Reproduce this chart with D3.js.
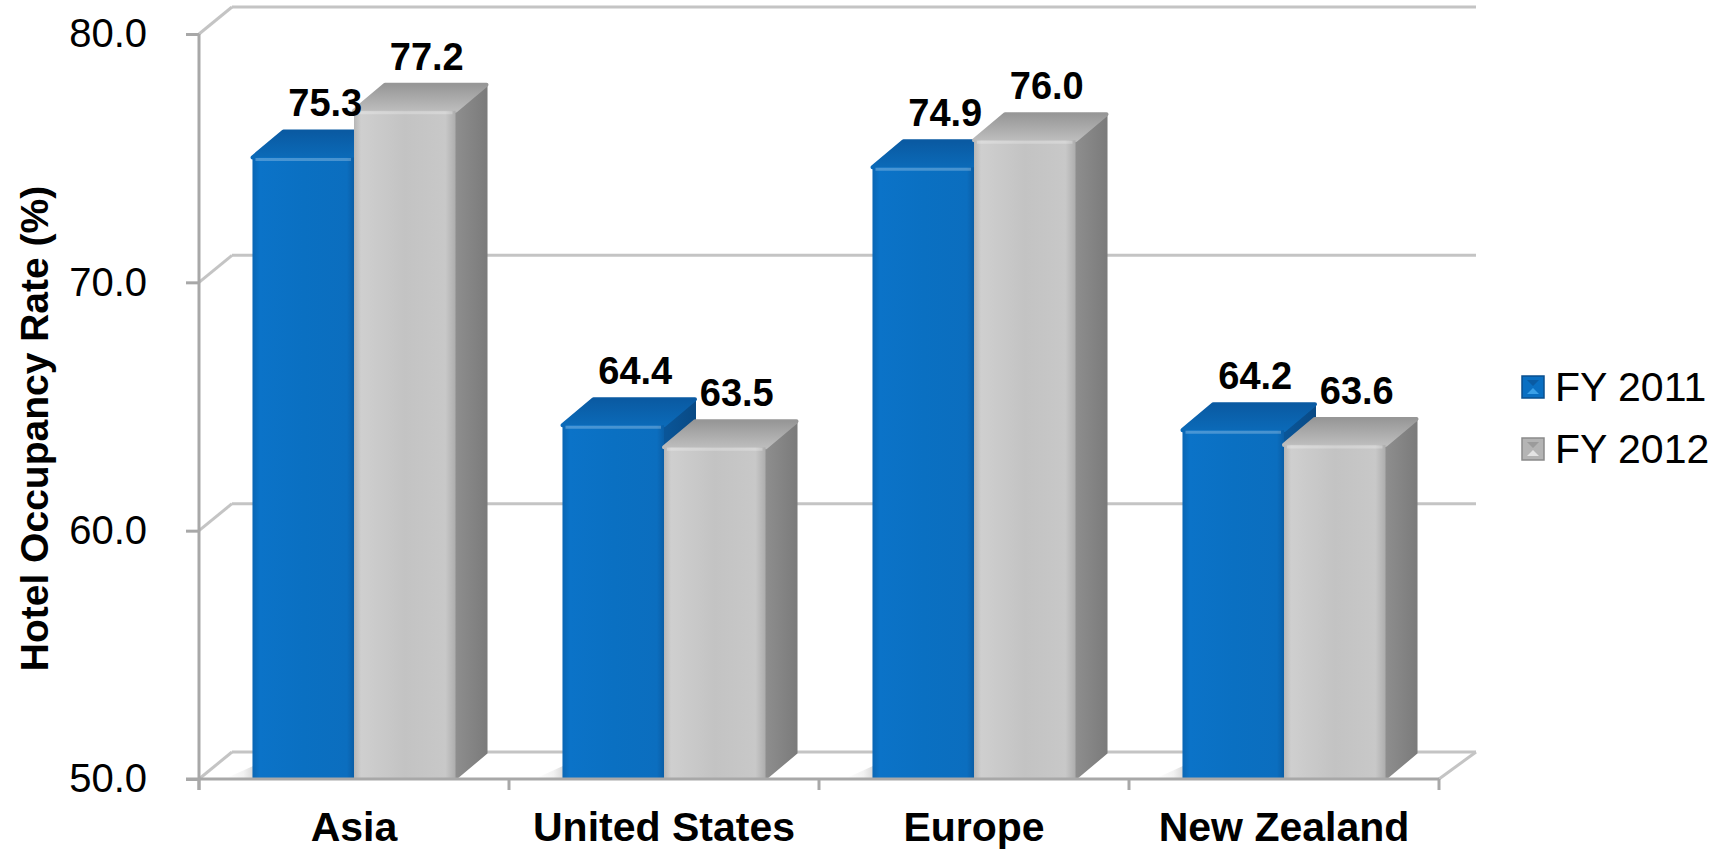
<!DOCTYPE html>
<html>
<head>
<meta charset="utf-8">
<script src="https://cdn.jsdelivr.net/npm/d3@7/dist/d3.min.js"></script>
<style>
  html, body { margin: 0; padding: 0; background: #fff; }
  svg { display: block; font-family: "Liberation Sans", Arial, sans-serif; }
</style>
</head>
<body>
<svg id="chart" width="1731" height="852"></svg>
<script>
// ---- data ----
const categories = ["Asia", "United States", "Europe", "New Zealand"];
const seriesNames = ["FY 2011", "FY 2012"];
const fy2011 = [75.3, 64.4, 74.9, 64.2];
const fy2012 = [77.2, 63.5, 76.0, 63.6];
const yTicks = [50, 60, 70, 80];
const yTitle = "Hotel Occupancy Rate (%)";

// ---- layout ----
const pLeft = 199, pRight = 1439, pBottom = 779, pTop = 34;
const wallDx = 33, wallDy = -27;
const barDx = 31, barDy = -26;

const svg = d3.select("#chart");
const defs = svg.append("defs");

function linGrad(id, stops, x2 = "100%", y2 = "0%") {
  const g = defs.append("linearGradient").attr("id", id)
    .attr("x1", "0%").attr("y1", "0%").attr("x2", x2).attr("y2", y2);
  stops.forEach(s => g.append("stop").attr("offset", s[0]).attr("stop-color", s[1]));
}
linGrad("blueFront", [["0%", "#0a66b4"], ["7%", "#0b73c8"], ["50%", "#0a70c2"], ["93%", "#0b6ebf"], ["100%", "#0a5ea6"]]);
linGrad("blueTop", [["0%", "#0a5aa2"], ["100%", "#0b6ab8"]], "0%", "100%");
linGrad("blueSide", [["0%", "#0a5699"], ["100%", "#094a85"]]);
linGrad("grayFront", [["0%", "#b6b6b6"], ["7%", "#cfcfcf"], ["50%", "#c3c3c3"], ["90%", "#c8c8c8"], ["100%", "#adadad"]]);
linGrad("grayTop", [["0%", "#979797"], ["100%", "#bdbdbd"]], "0%", "100%");
linGrad("graySide", [["0%", "#8e8e8e"], ["100%", "#7b7b7b"]]);
linGrad("floorShade", [["0%", "#ffffff"], ["30%", "#f2f2f2"], ["100%", "#8c8c8c"]]);

const x0 = d3.scaleBand().domain(categories).range([pLeft, pRight])
  .paddingInner(0.345).paddingOuter(0.1725);
const x1 = d3.scaleBand().domain(seriesNames).range([0, x0.bandwidth()]);
const y = d3.scaleLinear().domain([50, 80]).range([pBottom, pTop]);
// bars sit slightly recessed in the 3-D box
const yBar = d3.scaleLinear().domain([50, 80]).range([pBottom, pTop + 8]);

const gridColor = "#c4c4c4";
const axisColor = "#a8a8a8";

// back wall gridlines + side-wall diagonals
const grid = svg.append("g");
yTicks.forEach(t => {
  const yy = y(t);
  grid.append("line")
    .attr("x1", pLeft + wallDx).attr("x2", pRight + wallDx + 4)
    .attr("y1", yy + wallDy).attr("y2", yy + wallDy)
    .attr("stroke", gridColor).attr("stroke-width", 3);
  grid.append("line")
    .attr("x1", pLeft).attr("y1", yy)
    .attr("x2", pLeft + wallDx).attr("y2", yy + wallDy)
    .attr("stroke", gridColor).attr("stroke-width", 3);
});
grid.append("line")
  .attr("x1", pRight).attr("y1", pBottom)
  .attr("x2", pRight + wallDx + 4).attr("y2", pBottom + wallDy)
  .attr("stroke", gridColor).attr("stroke-width", 3);

// floor shadows left of each group
const shadowW = 26;
categories.forEach(c => {
  const bl = x0(c);
  svg.append("path")
    .attr("d", `M${bl - shadowW},${pBottom - 1} L${bl},${pBottom - 1} L${bl + barDx},${pBottom + barDy + 1} L${bl + barDx - 4},${pBottom + barDy + 1} Z`)
    .attr("fill", "url(#floorShade)");
});

// bars
const series = [
  { name: seriesNames[0], values: fy2011, front: "url(#blueFront)", topF: "url(#blueTop)", side: "url(#blueSide)" },
  { name: seriesNames[1], values: fy2012, front: "url(#grayFront)", topF: "url(#grayTop)", side: "url(#graySide)" }
];
const bars = svg.append("g");
categories.forEach((c, ci) => {
  series.forEach(s => {
    const v = s.values[ci];
    const bx = x0(c) + x1(s.name);
    const bw = x1.bandwidth();
    const by = yBar(v);
    const g = bars.append("g");
    g.append("path")
      .attr("d", `M${bx + bw},${by} L${bx + bw + barDx},${by + barDy} L${bx + bw + barDx},${pBottom + barDy} L${bx + bw},${pBottom} Z`)
      .attr("fill", s.side).attr("stroke", s.side).attr("stroke-width", 2).attr("stroke-linejoin", "round");
    g.append("path")
      .attr("d", `M${bx},${by} L${bx + barDx},${by + barDy} L${bx + bw + barDx},${by + barDy} L${bx + bw},${by} Z`)
      .attr("fill", s.topF).attr("stroke", s.topF).attr("stroke-width", 4).attr("stroke-linejoin", "round");
    g.append("rect")
      .attr("x", bx).attr("y", by).attr("width", bw).attr("height", pBottom - by)
      .attr("fill", s.front);
    g.append("line")
      .attr("x1", bx + 3).attr("x2", bx + bw - 3).attr("y1", by + 2).attr("y2", by + 2)
      .attr("stroke", "#ffffff").attr("stroke-opacity", 0.25).attr("stroke-width", 3);
  });
});

// data labels
const labels = svg.append("g").attr("font-weight", "bold").attr("font-size", 38)
  .attr("text-anchor", "middle").attr("fill", "#000");
categories.forEach((c, ci) => {
  series.forEach(s => {
    const v = s.values[ci];
    const cx = x0(c) + x1(s.name) + x1.bandwidth() / 2 + 22;
    labels.append("text")
      .attr("x", cx).attr("y", yBar(v) + barDy - 15)
      .text(v.toFixed(1));
  });
});

// floor front edge / axes
svg.append("line").attr("x1", pLeft - 13).attr("x2", pRight).attr("y1", pBottom).attr("y2", pBottom)
  .attr("stroke", axisColor).attr("stroke-width", 3);
svg.append("line").attr("x1", pLeft).attr("x2", pLeft).attr("y1", pTop).attr("y2", pBottom + 11)
  .attr("stroke", axisColor).attr("stroke-width", 3);

// y axis
const yAxis = d3.axisLeft(y).tickValues(yTicks).tickFormat(d3.format(".1f")).tickSize(13).tickPadding(39);
const yg = svg.append("g").attr("transform", `translate(${pLeft},0)`).call(yAxis);
yg.select(".domain").remove();
yg.selectAll(".tick line").attr("stroke", axisColor).attr("stroke-width", 3).attr("x2", -13);
yg.selectAll(".tick text").attr("font-size", 40).attr("fill", "#000").attr("x", -52)
  .attr("font-family", "'Liberation Sans', Arial, sans-serif");

// x axis
const xEdges = d3.scaleLinear().domain([0, categories.length]).range([pLeft, pRight]);
d3.range(categories.length + 1).forEach(i => {
  svg.append("line").attr("x1", xEdges(i)).attr("x2", xEdges(i))
    .attr("y1", pBottom).attr("y2", pBottom + 11)
    .attr("stroke", axisColor).attr("stroke-width", 3);
});
svg.append("g").attr("font-weight", "bold").attr("font-size", 41).attr("text-anchor", "middle")
  .selectAll("text").data(categories).join("text")
  .attr("x", d => x0(d) + x0.bandwidth() / 2)
  .attr("y", 841)
  .text(d => d);

// y title
svg.append("text")
  .attr("transform", `translate(48,${(pTop + pBottom) / 2 + 22}) rotate(-90)`)
  .attr("text-anchor", "middle").attr("font-weight", "bold").attr("font-size", 39)
  .text(yTitle);

// legend
const legend = svg.append("g").attr("transform", "translate(1522,376)");
const legColors = [
  { base: "#0a6fc2", light: "#3aa0e8", dark: "#0a4f8e" },
  { base: "#b4b4b4", light: "#e4e4e4", dark: "#8a8a8a" }
];
seriesNames.forEach((n, i) => {
  const g = legend.append("g").attr("transform", `translate(0,${i * 62})`);
  const s = 22;
  g.append("rect").attr("width", s).attr("height", s).attr("fill", legColors[i].base)
    .attr("stroke", legColors[i].dark).attr("stroke-width", 1.5);
  g.append("path").attr("d", `M5,${s - 4} L${s - 5},${s - 4} L${s / 2},${s / 2 + 1} Z`)
    .attr("fill", legColors[i].light);
  g.append("path").attr("d", `M5,4 L${s - 5},4 L${s / 2},${s / 2 - 1} Z`)
    .attr("fill", legColors[i].dark).attr("opacity", 0.6);
  g.append("text").attr("x", 33).attr("y", 25).attr("font-size", 41).attr("fill", "#000").text(n);
});
</script>
</body>
</html>
